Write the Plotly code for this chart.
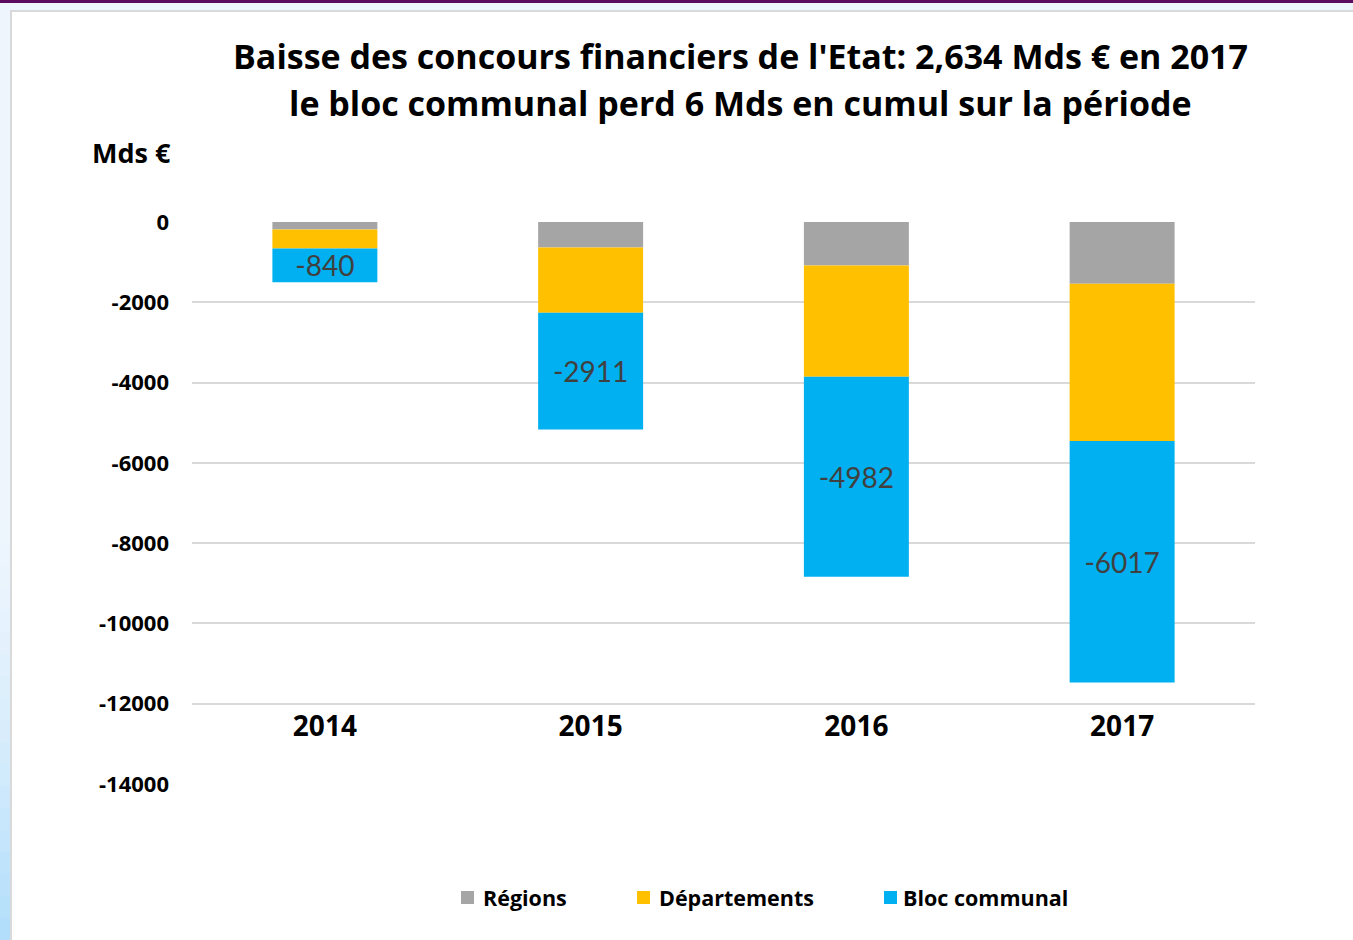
import plotly.graph_objects as go

years = ["2014", "2015", "2016", "2017"]
regions = [-184, -635, -1086, -1537]
departements = [-476, -1624, -2772, -3920]
bloc_communal = [-840, -2911, -4982, -6017]
series_names = ["Régions", "Départements", "Bloc communal"]
series_colors = ["#A5A5A5", "#FFC000", "#00B0F0"]
y_ticks = [0, -2000, -4000, -6000, -8000, -10000, -12000, -14000]

W, H = 1353, 940
L, R, T, B = 192, 1255, 222, 784

def px(x):
    return (x - L) / (R - L)

def py(y):
    return (B - y) / (B - T)

BOLD = "Open Sans"
REG = "Lato"
fig = go.Figure()
for name, vals, col in zip(series_names, [regions, departements, bloc_communal], series_colors):
    kw = {}
    if name == series_names[2]:
        kw = dict(text=[str(v) for v in vals], textposition="inside", insidetextanchor="middle",
                  textangle=0, constraintext="none",
                  textfont=dict(family=REG, size=28, color="#404040"))
    fig.add_trace(go.Bar(x=years, y=vals, name=name, marker=dict(color=col, line=dict(width=0)), **kw))

shapes = [
    dict(type="rect", xref="paper", yref="paper", x0=px(-20), x1=px(W + 20), y0=py(H + 20), y1=py(-20),
         fillcolor="#EEF5FD", line=dict(width=0), layer="below"),
]
# light-blue gradient strip on the left edge (background decoration)
n_seg = 20
c0 = (238, 245, 253)
c1 = (176, 221, 251)
for i in range(n_seg):
    t = (i + 0.5) / n_seg
    col = tuple(round(a + (b - a) * t ** 1.6) for a, b in zip(c0, c1))
    y_top = 500 + i * (H - 500) / n_seg
    y_bot = 500 + (i + 1) * (H - 500) / n_seg + 1
    shapes.append(dict(type="rect", xref="paper", yref="paper", x0=px(-20), x1=px(11),
                       y0=py(y_bot), y1=py(y_top), fillcolor="rgb(%d,%d,%d)" % col,
                       line=dict(width=0), layer="below"))
shapes += [
    dict(type="rect", xref="paper", yref="paper", x0=px(11), x1=px(W + 20), y0=py(H + 20), y1=py(11),
         fillcolor="#FFFFFF", line=dict(color="#D9D9D9", width=2), layer="below"),
    dict(type="rect", xref="paper", yref="paper", x0=px(-20), x1=px(W + 20), y0=py(3), y1=py(-5),
         fillcolor="#5B0A5E", line=dict(width=0), layer="above"),
]

annotations = [
    dict(text="<b>Baisse des concours financiers de l'Etat: 2,634 Mds € en 2017</b>", xref="paper", yref="paper",
         x=px(740), y=py(56), xanchor="center", yanchor="middle", showarrow=False,
         font=dict(family=BOLD, size=34, color="#000000")),
    dict(text="<b>le bloc communal perd 6 Mds en cumul sur la période</b>", xref="paper", yref="paper",
         x=px(740), y=py(103), xanchor="center", yanchor="middle", showarrow=False,
         font=dict(family=BOLD, size=34, color="#000000")),
    dict(text="<b>Mds €</b>", xref="paper", yref="paper", x=px(90), y=py(153), xanchor="left", yanchor="middle",
         showarrow=False, font=dict(family=BOLD, size=27, color="#000000")),
]

# legend drawn manually (Excel-like spacing)
leg_marker_x = [461, 637, 884]
leg_text_x = [481, 657, 901]
leg_y = 897
for name, col, mx, tx in zip(series_names, series_colors, leg_marker_x, leg_text_x):
    shapes.append(dict(type="rect", xref="paper", yref="paper", x0=px(mx), x1=px(mx + 13),
                       y0=py(leg_y + 7), y1=py(leg_y - 6), fillcolor=col, line=dict(width=0)))
    annotations.append(dict(text=f"<b>{name}</b>", xref="paper", yref="paper", x=px(tx), y=py(leg_y),
                            xanchor="left", yanchor="middle", showarrow=False,
                            font=dict(family=BOLD, size=21.5, color="#000000")))

fig.update_layout(
    width=W, height=H,
    margin=dict(l=L, r=W - R, t=T, b=H - B),
    paper_bgcolor="#EEF5FD", plot_bgcolor="rgba(0,0,0,0)",
    barmode="relative", bargap=0.605,
    showlegend=False,
    shapes=shapes, annotations=annotations,
    xaxis=dict(type="category", anchor="free", position=py(707), showline=False, showgrid=False,
               ticks="",
               tickfont=dict(family=BOLD, size=28, color="#000000"), tickprefix="<b>", ticksuffix="</b>"),
    yaxis=dict(range=[-14000, 0], tickvals=y_ticks, ticktext=[f"<b>{v}</b>" for v in y_ticks],
               showgrid=True, gridcolor="#D9D9D9", gridwidth=1.5, zeroline=False, showline=False,
               ticks="", ticklabelstandoff=22,
               tickfont=dict(family=BOLD, size=22, color="#000000")),
    font=dict(family=REG),
)

fig.write_html("out.html", config={"displayModeBar": False},
               post_script="document.body.style.margin='0px';document.documentElement.style.background='#EEF5FD';")
